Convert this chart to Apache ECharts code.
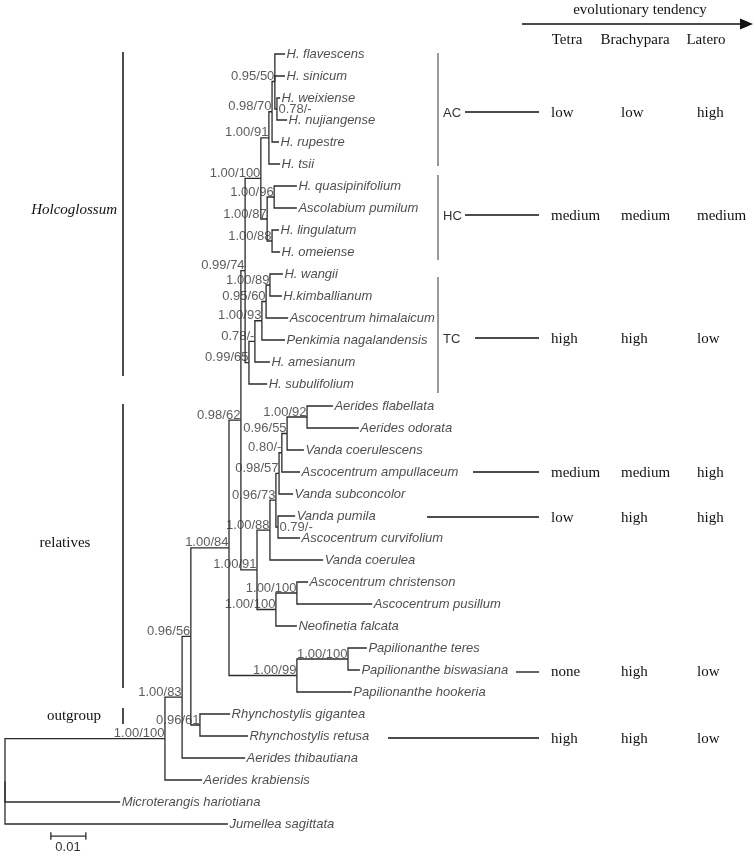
<!DOCTYPE html>
<html><head><meta charset="utf-8">
<script src="https://cdn.jsdelivr.net/npm/echarts/dist/echarts.min.js"></script>
<style>html,body{margin:0;padding:0;background:#fff}#c{width:754px;height:856px}</style>
</head><body><div id="c"></div>
<script>
// ---------- DATA ----------
const tipNames = [
  'H. flavescens','H. sinicum','H. weixiense','H. nujiangense','H. rupestre','H. tsii',
  'H. quasipinifolium','Ascolabium pumilum','H. lingulatum','H. omeiense',
  'H. wangii','H.kimballianum','Ascocentrum himalaicum','Penkimia nagalandensis','H. amesianum','H. subulifolium',
  'Aerides flabellata','Aerides odorata','Vanda coerulescens','Ascocentrum ampullaceum','Vanda subconcolor',
  'Vanda pumila','Ascocentrum curvifolium','Vanda coerulea','Ascocentrum christenson','Ascocentrum pusillum',
  'Neofinetia falcata','Papilionanthe teres','Papilionanthe biswasiana','Papilionanthe hookeria',
  'Rhynchostylis gigantea','Rhynchostylis retusa','Aerides thibautiana','Aerides krabiensis',
  'Microterangis hariotiana','Jumellea sagittata'
];
const tipDepths = [
  0.0800,0.0800,0.0786,0.0806,0.0783,0.0786,
  0.0834,0.0834,0.0783,0.0786,
  0.0794,0.0791,0.0809,0.0800,0.0757,0.0749,
  0.0937,0.1011,0.0854,0.0843,0.0823,
  0.0829,0.0843,0.0909,0.0866,0.1049,
  0.0834,0.1034,0.1014,0.0991,
  0.0643,0.0694,0.0686,0.0563,
  0.0329,0.0637
];
const nodeIds = ['root','A','B','C','E','D','P','Q','F','G','K','K2','J','J2','J3','J4','J5','J6','J7',
  'H','T','T2','T3','T4','T5','I','AC','AC2','AC3','AC4','HC','HC1','HC2'];
const nodeSupport = ['','1.00/100','1.00/83','0.96/56','0.96/61','1.00/84','1.00/99','1.00/100','0.98/62','1.00/91',
  '1.00/100','1.00/100','1.00/88','0.96/73','0.79/-','0.98/57','0.80/-','0.96/55','1.00/92',
  '0.99/74','0.99/65','0.78/-','1.00/93','0.95/60','1.00/89','1.00/100','1.00/91','0.98/70','0.95/50','0.78/-',
  '1.00/87','1.00/96','1.00/88'];
const nodeDepths = [0,0.0457,0.0506,0.0531,0.0557,0.0640,0.0834,0.0980,0.0674,0.0720,
  0.0774,0.0834,0.0757,0.0774,0.0780,0.0783,0.0791,0.0806,0.0863,
  0.0686,0.0697,0.0714,0.0734,0.0746,0.0757,0.0731,0.0754,0.0763,0.0771,0.0777,
  0.0749,0.0769,0.0763];
const nodeChildren = [
  ['A','Microterangis hariotiana','Jumellea sagittata'],
  ['B','Aerides krabiensis'],
  ['C','Aerides thibautiana'],
  ['D','E'],
  ['Rhynchostylis gigantea','Rhynchostylis retusa'],
  ['F','P'],
  ['Q','Papilionanthe hookeria'],
  ['Papilionanthe teres','Papilionanthe biswasiana'],
  ['H','G'],
  ['J','K'],
  ['K2','Neofinetia falcata'],
  ['Ascocentrum christenson','Ascocentrum pusillum'],
  ['J2','Vanda coerulea'],
  ['J4','J3'],
  ['Vanda pumila','Ascocentrum curvifolium'],
  ['J5','Vanda subconcolor'],
  ['J6','Ascocentrum ampullaceum'],
  ['J7','Vanda coerulescens'],
  ['Aerides flabellata','Aerides odorata'],
  ['I','T'],
  ['T2','H. subulifolium'],
  ['T3','H. amesianum'],
  ['T4','Penkimia nagalandensis'],
  ['T5','Ascocentrum himalaicum'],
  ['H. wangii','H.kimballianum'],
  ['AC','HC'],
  ['AC2','H. tsii'],
  ['AC3','H. rupestre'],
  ['H. flavescens','H. sinicum','AC4'],
  ['H. weixiense','H. nujiangense'],
  ['HC1','HC2'],
  ['H. quasipinifolium','Ascolabium pumilum'],
  ['H. lingulatum','H. omeiense']
];
const scaleBarStart = 0.0131;
const scaleBarLength = 0.01;
const scaleBarText = '0.01';

const groupNames = ['Holcoglossum','relatives','outgroup'];
const cladeNames = ['AC','HC','TC'];
const trendTitle = 'evolutionary tendency';
const traitHeaders = ['Tetra','Brachypara','Latero'];
const traitRows = ['AC','HC','TC','Ascocentrum ampullaceum','Vanda pumila','Papilionanthe biswasiana','Rhynchostylis retusa'];
const tetraValues = ['low','medium','high','medium','low','none','high'];
const brachyparaValues = ['low','medium','high','medium','high','high','high'];
const lateroValues = ['high','medium','low','high','high','low','low'];

// ---------- TREE LAYOUT (from data) ----------
const yOf = {}, xOf = {};
tipNames.forEach((n,i)=>{ yOf[n]=i; xOf[n]=tipDepths[i]; });
nodeIds.forEach((id,i)=>{ xOf[id]=nodeDepths[i]; });
function nodeY(id){
  if (yOf[id] !== undefined) return yOf[id];
  const ch = nodeChildren[nodeIds.indexOf(id)].map(nodeY);
  yOf[id] = (Math.min(...ch)+Math.max(...ch))/2;
  return yOf[id];
}
nodeY('root');

const branches = [];
nodeIds.forEach((id,i)=>{
  nodeChildren[i].forEach(c=>{
    branches.push({coords:[[xOf[id],yOf[id]],[xOf[id],yOf[c]],[xOf[c],yOf[c]]]});
  });
});
// scale bar
const sbY = 35.55, tk = 0.17;
branches.push({coords:[[scaleBarStart,sbY],[scaleBarStart+scaleBarLength,sbY]]});
branches.push({coords:[[scaleBarStart,sbY-tk],[scaleBarStart,sbY+tk]]});
branches.push({coords:[[scaleBarStart+scaleBarLength,sbY-tk],[scaleBarStart+scaleBarLength,sbY+tk]]});

const rightLabelIds = ['AC4','J3'];
const supLeft = [], supRight = [];
nodeIds.forEach((id,i)=>{
  if (!nodeSupport[i]) return;
  const item = {name: nodeSupport[i], value:[xOf[id], yOf[id]]};
  (rightLabelIds.includes(id) ? supRight : supLeft).push(item);
});
const tipData = tipNames.map((n,i)=>({name:n, value:[tipDepths[i], i]}));

const SANS = 'Liberation Sans, Arial, sans-serif';
const SERIF = 'Liberation Serif, Times New Roman, serif';
const INK = '#2b2b2b';

// ---------- annotation layout ----------
const g = [];
function txt(x,y,t,opt){ g.push({type:'text', x, y, silent:true, style:Object.assign({text:t, fill:'#111', font:'15px '+SERIF, textAlign:'center', textVerticalAlign:'middle'}, opt||{})}); }
function ln(x1,y1,x2,y2,w,c){ g.push({type:'line', silent:true, shape:{x1,y1,x2,y2}, style:{stroke:c||'#111', lineWidth:w||1.2}}); }
txt(640,10,trendTitle);
ln(522,24,744,24,1.3);
g.push({type:'polygon', silent:true, shape:{points:[[740,18.5],[753,24],[740,29.5]]}, style:{fill:'#111'}});
const headX = [567,635,706];
traitHeaders.forEach((h,i)=>txt(headX[i],40,h));
const groupBars = [[52,376],[404,688],[708,724]];
const groupLabelPos = [[117,210,'right','italic'],[65,543,'center','normal'],[74,716,'center','normal']];
groupNames.forEach((n,i)=>{
  ln(123,groupBars[i][0],123,groupBars[i][1],1.5);
  txt(groupLabelPos[i][0],groupLabelPos[i][1],n,{textAlign:groupLabelPos[i][2], font:groupLabelPos[i][3]+' 15px '+SERIF});
});
const cladeBars = [[53,166],[175,260],[277,393]];
cladeBars.forEach(b=>ln(438,b[0],438,b[1],1.2,'#555'));
const rowY = [112,215,338,472,517,672,738];
const rowLineStart = [465,465,475,473,427,516,388];
const colLeft = [551,621,697];
traitRows.forEach((r,i)=>{
  if (i<3) txt(443,rowY[i]+1,cladeNames[i],{textAlign:'left', font:'13px '+SANS, fill:'#333'});
  ln(rowLineStart[i],rowY[i],539,rowY[i],1.3);
  [tetraValues,brachyparaValues,lateroValues].forEach((vals,k)=>{
    txt(colLeft[k],rowY[i]+(i===5?0:1),vals[i],{textAlign:'left'});
  });
});
txt(68,847,scaleBarText,{font:'13px '+SANS, fill:'#333'});

const chart = echarts.init(document.getElementById('c'));
chart.setOption({
  animation:false,
  backgroundColor:'#fff',
  grid:{left:5, top:54, width:700, height:770},
  xAxis:{type:'value', min:0, max:0.2, show:false},
  yAxis:{type:'value', min:0, max:35, inverse:true, show:false},
  graphic:g,
  series:[
    {type:'lines', coordinateSystem:'cartesian2d', polyline:true, silent:true, clip:false,
     lineStyle:{color:INK, width:1.3, opacity:1}, data:branches},
    {type:'scatter', symbolSize:1, silent:true, clip:false, itemStyle:{color:'rgba(0,0,0,0)'}, data:tipData,
     label:{show:true, position:'right', distance:1, formatter:'{b}', fontFamily:SANS, fontStyle:'italic', fontSize:13, color:'#222'}},
    {type:'scatter', symbolSize:1, silent:true, clip:false, itemStyle:{color:'rgba(0,0,0,0)'}, data:supLeft,
     label:{show:true, position:[0,2], align:'right', verticalAlign:'bottom', formatter:'{b}', fontFamily:SANS, fontSize:13, color:'#333'}},
    {type:'scatter', symbolSize:1, silent:true, clip:false, itemStyle:{color:'rgba(0,0,0,0)'}, data:supRight,
     label:{show:true, position:'right', distance:1, formatter:'{b}', fontFamily:SANS, fontSize:13, color:'#333'}}
  ]
});
</script></body></html>
